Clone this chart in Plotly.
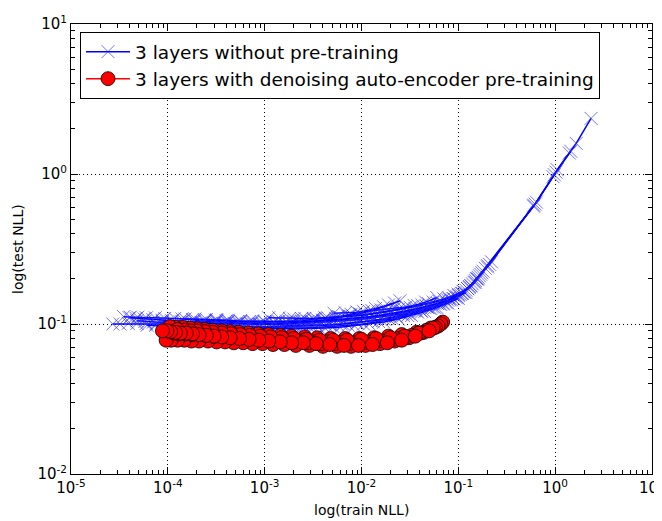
import plotly.graph_objects as go

# ---------------- data ----------------
# Runs without pre-training: (train NLL, test NLL) per epoch
b1_x = [2.35, 1.65, 1.4, 1.05, 0.95, 0.62, 0.2, 0.17, 0.15, 0.13, 0.11, 0.09, 0.07, 0.052, 0.038, 0.027, 0.019, 0.013, 0.009, 0.0062, 0.0043, 0.003, 0.0021, 0.0015, 0.0011, 0.0008, 0.0006, 0.00045, 0.00034, 0.00026, 0.0002, 0.000155, 0.00012, 9.5e-5, 7.5e-5, 6e-5, 4.8e-5, 3.9e-5, 3.2e-5, 2.7e-5]
b1_y = [2.35, 1.6, 1.38, 1.07, 0.96, 0.63, 0.245, 0.215, 0.195, 0.175, 0.16, 0.147, 0.136, 0.127, 0.12, 0.114, 0.109, 0.105, 0.102, 0.1, 0.098, 0.097, 0.096, 0.096, 0.096, 0.096, 0.097, 0.097, 0.098, 0.098, 0.099, 0.099, 0.1, 0.1, 0.1, 0.101, 0.101, 0.101, 0.1, 0.1]

b2_x = [1.45, 1.02, 0.6, 0.19, 0.16, 0.14, 0.12, 0.1, 0.082, 0.064, 0.048, 0.035, 0.025, 0.017, 0.012, 0.0082, 0.0057, 0.004, 0.0028, 0.002, 0.0014, 0.001, 0.00075, 0.00056, 0.00042, 0.00032, 0.00025, 0.00019, 0.00015, 0.000118, 9.3e-5, 7.4e-5, 6e-5, 4.9e-5, 4.1e-5, 3.5e-5]
b2_y = [1.42, 1.03, 0.61, 0.235, 0.205, 0.185, 0.168, 0.155, 0.145, 0.136, 0.129, 0.123, 0.118, 0.114, 0.111, 0.108, 0.106, 0.105, 0.104, 0.104, 0.104, 0.104, 0.105, 0.105, 0.106, 0.107, 0.107, 0.108, 0.108, 0.109, 0.109, 0.11, 0.11, 0.111, 0.111, 0.112]

b3_x = [0.98, 0.64, 0.21, 0.175, 0.155, 0.135, 0.115, 0.095, 0.075, 0.057, 0.042, 0.03, 0.021, 0.015, 0.0105, 0.0073, 0.0051, 0.0036, 0.0025, 0.0018, 0.0013, 0.00095, 0.0007, 0.00052, 0.00039, 0.0003, 0.00023, 0.00018, 0.00014, 0.00011, 8.8e-5, 7.1e-5, 5.8e-5, 4.8e-5]
b3_y = [0.99, 0.65, 0.25, 0.22, 0.2, 0.18, 0.163, 0.15, 0.139, 0.129, 0.121, 0.114, 0.108, 0.104, 0.1, 0.098, 0.096, 0.095, 0.094, 0.094, 0.094, 0.094, 0.095, 0.095, 0.096, 0.097, 0.098, 0.099, 0.1, 0.101, 0.102, 0.103, 0.104, 0.105]

b4_x = [0.6, 0.2, 0.165, 0.145, 0.125, 0.105, 0.085, 0.066, 0.05, 0.037, 0.027, 0.019, 0.0135, 0.0095, 0.0066, 0.0046, 0.0032, 0.0023, 0.0016, 0.00118, 0.00087, 0.00065, 0.00049, 0.00037, 0.00028, 0.00022, 0.00017, 0.000135, 0.000108, 8.8e-5]
b4_y = [0.62, 0.24, 0.21, 0.19, 0.172, 0.157, 0.145, 0.135, 0.128, 0.122, 0.117, 0.113, 0.11, 0.107, 0.105, 0.103, 0.102, 0.101, 0.1, 0.1, 0.1, 0.1, 0.1, 0.101, 0.101, 0.102, 0.102, 0.103, 0.103, 0.104]

b5_x = [0.22, 0.18, 0.155, 0.13, 0.108, 0.088, 0.07, 0.054, 0.041, 0.031, 0.023, 0.017, 0.0125, 0.009, 0.0065, 0.0047, 0.0034, 0.0025, 0.0018, 0.0013, 0.00096, 0.00072, 0.00054, 0.00041, 0.00031, 0.00024, 0.00019]
b5_y = [0.26, 0.225, 0.2, 0.178, 0.16, 0.148, 0.138, 0.13, 0.123, 0.117, 0.112, 0.108, 0.105, 0.102, 0.1, 0.099, 0.098, 0.098, 0.098, 0.099, 0.099, 0.1, 0.101, 0.102, 0.103, 0.104, 0.105]

b6_x = [0.16, 0.135, 0.112, 0.09, 0.071, 0.055, 0.042, 0.032, 0.024, 0.018, 0.0135, 0.01, 0.0075, 0.0056, 0.0042, 0.0032, 0.0024, 0.0018, 0.0014, 0.0011]
b6_y = [0.2, 0.18, 0.165, 0.155, 0.147, 0.14, 0.134, 0.129, 0.125, 0.121, 0.118, 0.115, 0.113, 0.111, 0.11, 0.109, 0.109, 0.109, 0.11, 0.11]

b7_x = [0.15, 0.125, 0.1, 0.08, 0.063, 0.049, 0.038, 0.029, 0.022, 0.016, 0.012, 0.009, 0.0068, 0.0052]
b7_y = [0.19, 0.172, 0.158, 0.149, 0.142, 0.137, 0.133, 0.13, 0.127, 0.124, 0.122, 0.12, 0.119, 0.118]

b8_x = [0.025, 0.019, 0.014, 0.0105, 0.0078, 0.0058, 0.0043, 0.0032, 0.0024, 0.0018, 0.00135, 0.001, 0.00075, 0.00056, 0.00042, 0.00032, 0.00024, 0.00018, 0.00014]
b8_y = [0.143, 0.134, 0.127, 0.121, 0.116, 0.112, 0.109, 0.107, 0.105, 0.104, 0.103, 0.103, 0.103, 0.104, 0.104, 0.105, 0.106, 0.107, 0.108]

b9_x = [0.022, 0.017, 0.0128, 0.0096, 0.0072, 0.0054, 0.004, 0.003, 0.0022, 0.0016, 0.0012, 0.0009, 0.00068, 0.00051, 0.00039, 0.0003, 0.00023, 0.00018, 0.00014, 0.00011, 8.7e-5, 7e-5, 5.7e-5, 4.7e-5, 4e-5]
b9_y = [0.138, 0.13, 0.123, 0.117, 0.113, 0.109, 0.106, 0.104, 0.102, 0.101, 0.1, 0.1, 0.1, 0.1, 0.101, 0.101, 0.102, 0.103, 0.104, 0.105, 0.106, 0.107, 0.108, 0.109, 0.11]

b10_x = [0.06, 0.046, 0.035, 0.027, 0.02, 0.015, 0.011, 0.0082, 0.006, 0.0045, 0.0034, 0.0026, 0.002]
b10_y = [0.15, 0.14, 0.133, 0.127, 0.122, 0.118, 0.115, 0.113, 0.111, 0.11, 0.109, 0.109, 0.108]

b11_x = [0.1, 0.078, 0.06, 0.045, 0.033, 0.024, 0.017, 0.012, 0.0085, 0.006, 0.0042, 0.003, 0.0021, 0.0015, 0.0011, 0.0008, 0.00059, 0.00044, 0.00033, 0.00025, 0.00019, 0.000148, 0.000117, 9.3e-5, 7.5e-5, 6.1e-5]
b11_y = [0.148, 0.138, 0.129, 0.121, 0.114, 0.108, 0.103, 0.1, 0.097, 0.095, 0.094, 0.093, 0.093, 0.093, 0.093, 0.093, 0.094, 0.094, 0.095, 0.095, 0.096, 0.096, 0.097, 0.097, 0.098, 0.098]

b12_x = [0.12, 0.097, 0.078, 0.061, 0.047, 0.036, 0.027, 0.02, 0.015, 0.011, 0.008, 0.0058, 0.0042, 0.0031, 0.0023, 0.0017, 0.00125, 0.00093, 0.0007, 0.00053, 0.0004, 0.00031]
b12_y = [0.162, 0.152, 0.144, 0.137, 0.131, 0.126, 0.121, 0.117, 0.114, 0.111, 0.109, 0.107, 0.105, 0.104, 0.103, 0.103, 0.103, 0.103, 0.104, 0.104, 0.105, 0.106]

# Runs with denoising auto-encoder pre-training
r1_x = [0.069, 0.052, 0.037, 0.026, 0.019, 0.0135, 0.0095, 0.0068, 0.0048, 0.0035, 0.0026, 0.0019, 0.00145, 0.0011, 0.00086, 0.00068, 0.00054, 0.00044, 0.00036, 0.00029, 0.00024, 0.0002, 0.000168, 0.000142, 0.00012, 0.000105]
r1_y = [0.103, 0.094, 0.088, 0.085, 0.083, 0.081, 0.08, 0.08, 0.08, 0.081, 0.082, 0.083, 0.084, 0.085, 0.086, 0.087, 0.088, 0.089, 0.09, 0.091, 0.092, 0.093, 0.094, 0.095, 0.095, 0.096]

r2_x = [0.066, 0.047, 0.033, 0.024, 0.017, 0.012, 0.0086, 0.0061, 0.0044, 0.0031, 0.0023, 0.0017, 0.0013, 0.001, 0.0008, 0.00063, 0.0005, 0.00041, 0.00033, 0.00027, 0.00022, 0.00018, 0.000152, 0.00013, 0.00011, 9.4e-5]
r2_y = [0.1, 0.091, 0.084, 0.08, 0.077, 0.076, 0.075, 0.075, 0.076, 0.076, 0.077, 0.078, 0.079, 0.08, 0.081, 0.082, 0.082, 0.083, 0.084, 0.085, 0.085, 0.086, 0.087, 0.087, 0.088, 0.088]

r3_x = [0.062, 0.044, 0.031, 0.022, 0.0155, 0.011, 0.0078, 0.0056, 0.004, 0.0029, 0.0021, 0.0016, 0.00122, 0.00095, 0.00075, 0.0006, 0.00048, 0.00039, 0.00032, 0.00026, 0.00021, 0.000175, 0.000148, 0.000126, 0.000108, 9.6e-5]
r3_y = [0.097, 0.088, 0.081, 0.077, 0.074, 0.072, 0.071, 0.071, 0.071, 0.072, 0.072, 0.073, 0.073, 0.074, 0.074, 0.075, 0.075, 0.076, 0.076, 0.077, 0.077, 0.077, 0.078, 0.078, 0.078, 0.078]

r4_x = [0.058, 0.041, 0.029, 0.021, 0.0148, 0.0105, 0.0074, 0.0053, 0.0038, 0.0028, 0.002, 0.0015, 0.00116, 0.0009, 0.00071, 0.00057, 0.00046, 0.00037, 0.0003, 0.00025, 0.00021, 0.000178, 0.000152, 0.00013, 0.000115]
r4_y = [0.095, 0.087, 0.082, 0.079, 0.077, 0.075, 0.074, 0.074, 0.074, 0.075, 0.076, 0.077, 0.078, 0.079, 0.08, 0.081, 0.082, 0.083, 0.083, 0.084, 0.085, 0.085, 0.086, 0.086, 0.087]

r5_x = [0.055, 0.039, 0.028, 0.02, 0.0142, 0.01, 0.0071, 0.0051, 0.0037, 0.0027, 0.002, 0.0015, 0.00115, 0.0009, 0.0007, 0.00056, 0.00045, 0.00036, 0.00029, 0.00024, 0.0002, 0.00017, 0.000145, 0.000125]
r5_y = [0.094, 0.087, 0.083, 0.081, 0.08, 0.079, 0.078, 0.078, 0.078, 0.079, 0.08, 0.081, 0.082, 0.083, 0.084, 0.085, 0.086, 0.087, 0.088, 0.089, 0.09, 0.09, 0.091, 0.092]

r6_x = [0.05, 0.036, 0.026, 0.0185, 0.013, 0.0093, 0.0066, 0.0047, 0.0034, 0.0025, 0.0019, 0.00145, 0.0011, 0.00087, 0.00069, 0.00055, 0.00044, 0.00036, 0.0003, 0.00025, 0.00021, 0.00018, 0.000155, 0.000135, 0.00012, 0.000107, 9.8e-5, 8.8e-5]
r6_y = [0.09, 0.083, 0.078, 0.075, 0.073, 0.072, 0.072, 0.073, 0.074, 0.075, 0.075, 0.076, 0.077, 0.078, 0.079, 0.08, 0.081, 0.082, 0.083, 0.084, 0.085, 0.086, 0.087, 0.087, 0.088, 0.089, 0.09, 0.09]

blue_runs = [(b1_x, b1_y), (b2_x, b2_y), (b3_x, b3_y), (b4_x, b4_y), (b5_x, b5_y), (b6_x, b6_y),
             (b7_x, b7_y), (b8_x, b8_y), (b9_x, b9_y), (b10_x, b10_y), (b11_x, b11_y), (b12_x, b12_y)]
red_runs = [(r1_x, r1_y), (r2_x, r2_y), (r3_x, r3_y), (r4_x, r4_y), (r5_x, r5_y), (r6_x, r6_y)]

blue_name = "3 layers without pre-training"
red_name = "3 layers with denoising auto-encoder pre-training"
x_title = "log(train NLL)"
y_title = "log(test NLL)"

x_tick_vals = [1e-5, 1e-4, 1e-3, 1e-2, 1e-1, 1e0, 1e1]
x_tick_text = ["10<sup>-5</sup>", "10<sup>-4</sup>", "10<sup>-3</sup>", "10<sup>-2</sup>",
               "10<sup>-1</sup>", "10<sup>0</sup>", "10<sup>1</sup>"]
y_tick_vals = [1e-2, 1e-1, 1e0, 1e1]
y_tick_text = ["10<sup>-2</sup>", "10<sup>-1</sup>", "10<sup>0</sup>", "10<sup>1</sup>"]

# ---------------- figure ----------------
FONT = "DejaVu Sans"
fig = go.Figure()

for i, (xs, ys) in enumerate(blue_runs):
    fig.add_trace(go.Scatter(
        x=xs, y=ys, mode="lines+markers", name=blue_name,
        legendgroup="blue", showlegend=(i == 0),
        line=dict(color="#0000ff", width=1.5),
        marker=dict(symbol="x-thin", size=13,
                    line=dict(color="rgba(40,40,255,0.65)", width=1)),
    ))

for i, (xs, ys) in enumerate(red_runs):
    fig.add_trace(go.Scatter(
        x=xs, y=ys, mode="lines+markers", name=red_name,
        legendgroup="red", showlegend=(i == 0),
        line=dict(color="#ff0000", width=1.5),
        marker=dict(symbol="circle", size=14, color="#ff0000",
                    line=dict(color="black", width=0.8)),
    ))

axis_common = dict(
    type="log", automargin=False, ticklabeloverflow="allow",
    showline=True, linecolor="black", linewidth=1, mirror="allticks",
    ticks="inside", ticklen=7, tickcolor="black", tickwidth=1,
    showgrid=True, gridcolor="black", gridwidth=1, griddash="1px,3px",
    zeroline=False,
    tickfont=dict(family=FONT, size=15, color="black"),
    minor=dict(ticks="inside", ticklen=4, tickcolor="black", dtick="D1", showgrid=False),
)

fig.update_xaxes(**axis_common, range=[-5, 1.0004],
                 tickvals=x_tick_vals, ticktext=x_tick_text)
fig.update_yaxes(**axis_common, range=[-2, 1.0004],
                 tickvals=y_tick_vals, ticktext=y_tick_text)

fig.add_annotation(text=x_title, xref="paper", yref="paper", x=0.5, y=0,
                   xanchor="center", yanchor="middle", yshift=-36, showarrow=False,
                   font=dict(family=FONT, size=14, color="black"))
fig.add_annotation(text=y_title, xref="paper", yref="paper", x=0, y=0.5,
                   xanchor="center", yanchor="middle", xshift=-53, textangle=-90,
                   showarrow=False, font=dict(family=FONT, size=14, color="black"))

# the page body adds an 8px offset, so the figure is 8px smaller and margins are shifted
fig.update_layout(
    width=654, height=513,
    margin=dict(l=63, r=10, t=16, b=47),
    paper_bgcolor="white", plot_bgcolor="white",
    font=dict(family=FONT, color="black"),
    showlegend=True,
    legend=dict(x=0.0155, y=0.982, xanchor="left", yanchor="top",
                bgcolor="white", bordercolor="black", borderwidth=1,
                font=dict(family=FONT, size=18.5, color="black"),
                tracegroupgap=0, itemwidth=44),
)

fig.write_html("out.html")
